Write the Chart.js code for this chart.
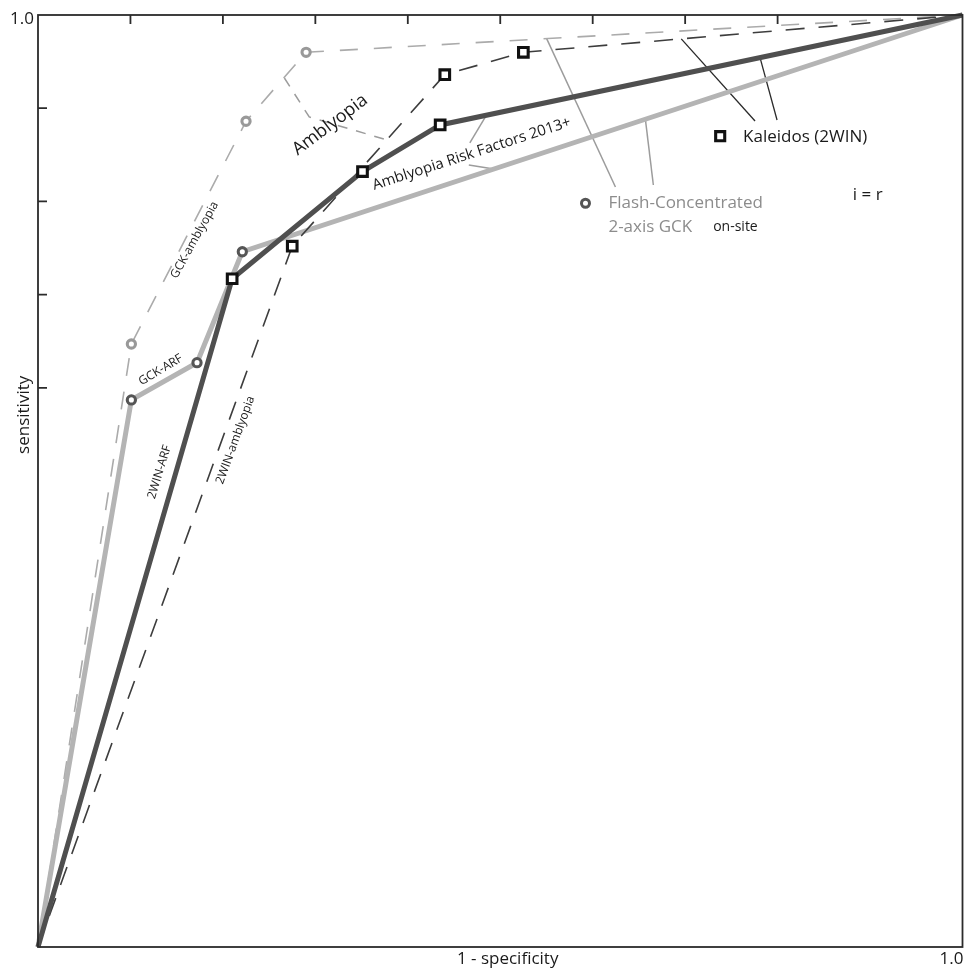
<!DOCTYPE html>
<html>
<head>
<meta charset="utf-8">
<script src="https://cdn.jsdelivr.net/npm/chart.js@4.4.1/dist/chart.umd.min.js"></script>
<style>
html, body { margin: 0; padding: 0; background: #fff; }
#wrap { position: relative; width: 972px; height: 969px; }
</style>
</head>
<body>
<div id="wrap"><canvas id="roc"></canvas></div>
<script>
// ROC points (x = 1 - specificity, y = sensitivity)
const winArfX = [0, 0.210, 0.351, 0.435, 1];
const winArfY = [0, 0.717, 0.832, 0.882, 1];
const winAmbX = [0, 0.275, 0.440, 0.525, 1];
const winAmbY = [0, 0.752, 0.936, 0.960, 1];
const gckArfX = [0, 0.101, 0.172, 0.221, 1];
const gckArfY = [0, 0.587, 0.627, 0.746, 1];
const gckAmbX = [0, 0.101, 0.225, 0.290, 1];
const gckAmbY = [0, 0.647, 0.886, 0.960, 1];

const xTicks = [0.1, 0.2, 0.3, 0.4, 0.5, 0.6, 0.7, 0.8];
const yTicks = [0.6, 0.7, 0.8, 0.9];

// leader lines, in data units
const leaders = [
    { pts: [[0.2665, 0.9324], [0.2934, 0.8906], [0.3776, 0.8659]], color: '#9c9c9c', width: 1.5, dash: [10, 9] },
    { pts: [[0.4854, 0.8930], [0.4671, 0.8627]], color: '#9c9c9c', width: 1.5 },
    { pts: [[0.4660, 0.8391], [0.4930, 0.8347]], color: '#9c9c9c', width: 1.5 },
    { pts: [[0.6958, 0.9744], [0.7756, 0.8863]], color: '#2a2a2a', width: 1.3 },
    { pts: [[0.7810, 0.9543], [0.7994, 0.8873]], color: '#2a2a2a', width: 1.3 },
    { pts: [[0.5502, 0.9746], [0.6246, 0.8155]], color: '#9c9c9c', width: 1.5 },
    { pts: [[0.6570, 0.8880], [0.6656, 0.8176]], color: '#9c9c9c', width: 1.5 },
];

// key markers next to the legend texts
const keyKaleidos = [0.7379, 0.870];
const keyFlash = [0.5922, 0.798];

const notes = [
    { text: 'Amblyopia', x: 0.316, y: 0.882, rot: -37, size: 18 },
    { text: 'Amblyopia Risk Factors 2013+', x: 0.469, y: 0.851, rot: -18, size: 15 },
    { text: 'GCK-amblyopia', x: 0.1694, y: 0.7586, rot: -61, size: 12 },
    { text: 'GCK-ARF', x: 0.1327, y: 0.6191, rot: -31, size: 12 },
    { text: '2WIN-ARF', x: 0.1316, y: 0.5097, rot: -73, size: 12 },
    { text: '2WIN-amblyopia', x: 0.2136, y: 0.544, rot: -70, size: 12 },
    { text: 'Kaleidos (2WIN)', x: 0.7627, y: 0.869, align: 'left', size: 17 },
    { text: 'i = r', x: 0.8975, y: 0.8069, size: 17 },
    { text: 'Flash-Concentrated', x: 0.617, y: 0.798, align: 'left', size: 17, color: '#8c8c8c' },
    { text: '2-axis GCK', x: 0.617, y: 0.7725, align: 'left', size: 17, color: '#8c8c8c' },
    { text: 'on-site', x: 0.7303, y: 0.7725, align: 'left', size: 14 },
];

const FONT = '"Open Sans", "DejaVu Sans", sans-serif';

function pts(xs, ys) { return xs.map((x, i) => ({ x, y: ys[i] })); }
// markers only on the inner points, not on (0,0) and (1,1)
function inner(r) { return ctx => (ctx.dataIndex === 0 || ctx.dataIndex === ctx.dataset.data.length - 1) ? 0 : r; }

function curve(label, xs, ys, color, width, dash, style, mColor, r, order) {
    return {
        label, data: pts(xs, ys), showLine: true, order, clip: false,
        borderColor: color, borderWidth: width, borderDash: dash,
        pointStyle: style, pointRadius: inner(r), pointBorderColor: mColor,
        pointBackgroundColor: '#fff', pointBorderWidth: 3.1,
    };
}

const datasets = [
    curve('2WIN-ARF', winArfX, winArfY, '#4f4f4f', 5, [], 'rect', '#111', 6.8, 0),
    curve('2WIN-amblyopia', winAmbX, winAmbY, '#3d3d3d', 1.6, [19, 14], 'rect', '#111', 6.8, 1),
    curve('GCK-ARF', gckArfX, gckArfY, '#b4b4b4', 5, [], 'circle', '#555', 4.1, 2),
    curve('GCK-amblyopia', gckAmbX, gckAmbY, '#ababab', 1.6, [18, 16], 'circle', '#999', 4.1, 3),
    { label: 'key-kaleidos', data: [{ x: keyKaleidos[0], y: keyKaleidos[1] }], pointStyle: 'rect',
      pointRadius: 6.4, pointBorderColor: '#111', pointBackgroundColor: '#fff', pointBorderWidth: 3.1, order: 0 },
    { label: 'key-flash', data: [{ x: keyFlash[0], y: keyFlash[1] }], pointStyle: 'circle',
      pointRadius: 4, pointBorderColor: '#555', pointBackgroundColor: '#fff', pointBorderWidth: 3, order: 0 },
];
leaders.forEach((l, i) => datasets.push({
    label: 'leader' + i, data: l.pts.map(p => ({ x: p[0], y: p[1] })), showLine: true,
    borderColor: l.color, borderWidth: l.width, borderDash: l.dash || [], pointRadius: 0, order: 10, clip: false,
}));

const frame = {
    id: 'frame',
    afterDraw(chart) {
        const { ctx, chartArea: a, scales: { x, y } } = chart;
        ctx.save();
        ctx.strokeStyle = '#2b2b2b';
        ctx.lineWidth = 1.8;
        ctx.strokeRect(a.left, a.top, a.right - a.left, a.bottom - a.top);
        ctx.beginPath();
        xTicks.forEach(v => { const px = x.getPixelForValue(v); ctx.moveTo(px, a.top); ctx.lineTo(px, a.top + 9); });
        yTicks.forEach(v => { const py = y.getPixelForValue(v); ctx.moveTo(a.left, py); ctx.lineTo(a.left + 9, py); });
        ctx.stroke();

        ctx.fillStyle = '#1a1a1a';
        ctx.font = '17px ' + FONT;
        ctx.textBaseline = 'middle';
        ctx.textAlign = 'right';
        ctx.fillText('1.0', a.left - 4, y.getPixelForValue(1) + 4);
        ctx.fillText('1.0', x.getPixelForValue(1) + 1, a.bottom + 12);
        ctx.textAlign = 'center';
        ctx.fillText('1 - specificity', x.getPixelForValue(0.508), a.bottom + 12);
        ctx.save();
        ctx.translate(a.left - 14, y.getPixelForValue(0.571));
        ctx.rotate(-Math.PI / 2);
        ctx.fillText('sensitivity', 0, 0);
        ctx.restore();

        notes.forEach(n => {
            ctx.save();
            ctx.translate(x.getPixelForValue(n.x), y.getPixelForValue(n.y));
            ctx.rotate((n.rot || 0) * Math.PI / 180);
            ctx.font = n.size + 'px ' + FONT;
            ctx.fillStyle = n.color || '#1a1a1a';
            ctx.textAlign = n.align || 'center';
            ctx.fillText(n.text, 0, 0);
            ctx.restore();
        });
        ctx.restore();
    }
};

new Chart(document.getElementById('roc'), {
    type: 'scatter',
    data: { datasets },
    options: {
        animation: false,
        responsive: true, maintainAspectRatio: false,
        layout: { padding: { left: 38, top: 15, right: 7, bottom: 22 } },
        plugins: { legend: { display: false }, tooltip: { enabled: false } },
        scales: {
            x: { type: 'linear', min: 0, max: 1, display: false },
            y: { type: 'linear', min: 0, max: 1, display: false },
        },
    },
    plugins: [frame],
});
</script>
</body>
</html>
